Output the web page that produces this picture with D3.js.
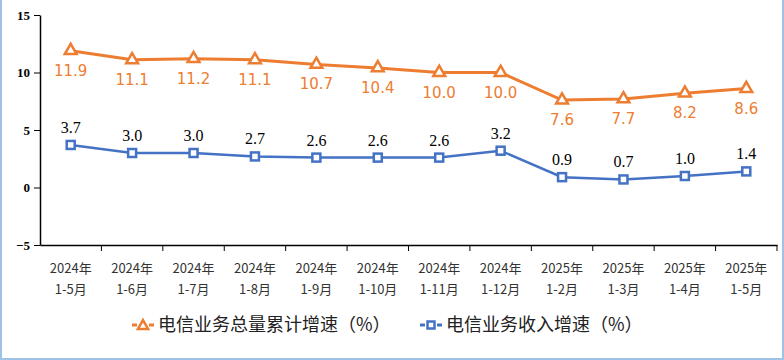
<!DOCTYPE html>
<html>
<head>
<meta charset="utf-8">
<script src="https://cdn.jsdelivr.net/npm/d3@7"></script>
<style>
  body { margin: 0; background: #fff; }
  svg { display: block; }
</style>
</head>
<body>
<div id="chart-area"><svg></svg></div>
<script>
const categories = ["2024年|1-5月", "2024年|1-6月", "2024年|1-7月", "2024年|1-8月", "2024年|1-9月", "2024年|1-10月",
  "2024年|1-11月", "2024年|1-12月", "2025年|1-2月", "2025年|1-3月", "2025年|1-4月", "2025年|1-5月"];
const volumeGrowth = [11.9, 11.1, 11.2, 11.1, 10.7, 10.4, 10.0, 10.0, 7.6, 7.7, 8.2, 8.6];
const revenueGrowth = [3.7, 3.0, 3.0, 2.7, 2.6, 2.6, 2.6, 3.2, 0.9, 0.7, 1.0, 1.4];
const yTicks = [-5, 0, 5, 10, 15];
const seriesNames = ["电信业务总量累计增速（%）", "电信业务收入增速（%）"];

const chartSize = { width: 784, height: 360 };
const margin = { left: 40, right: 7, top: 15, bottom: 115 };
const width = chartSize.width - margin.left - margin.right;
const height = chartSize.height - margin.top - margin.bottom;
const orange = "#ED7D31";
const blue = "#4472C4";
const serif = "'Liberation Serif', 'DejaVu Serif', serif";
const cjk = "'Noto Sans CJK SC', sans-serif";

const svg = d3.select("#chart-area svg")
  .attr("width", chartSize.width)
  .attr("height", chartSize.height);

// frame
svg.append("path")
  .attr("d", `M1,0 V${chartSize.height - 1} H${chartSize.width - 1} V0`)
  .attr("fill", "none")
  .attr("stroke", "#9DC3E6")
  .attr("stroke-width", 2);

const g = svg.append("g").attr("transform", `translate(${margin.left},${margin.top})`);

const x = d3.scaleBand().domain(categories).range([0, width]);
const y = d3.scaleLinear().domain([-5, 15]).range([height, 0]);

const yAxis = g.append("g")
  .call(d3.axisLeft(y).tickValues(yTicks).tickSize(6).tickSizeOuter(0).tickPadding(4));
yAxis.select(".domain").attr("stroke", "#000").attr("stroke-width", 1.5);
yAxis.selectAll(".tick line").attr("stroke", "#000");
yAxis.selectAll("text")
  .style("font-family", serif)
  .attr("font-weight", "bold")
  .attr("font-size", 13)
  .attr("fill", "#000");

const xAxis = g.append("g")
  .attr("transform", `translate(0,${height})`)
  .call(d3.axisBottom(x).tickSize(0).tickFormat(""));
xAxis.select(".domain").attr("stroke", "#000").attr("stroke-width", 1.5);

// tick marks on category boundaries
g.append("g").selectAll("line")
  .data(categories)
  .join("line")
  .attr("x1", d => x(d) + x.bandwidth())
  .attr("x2", d => x(d) + x.bandwidth())
  .attr("y1", height)
  .attr("y2", height + 6)
  .attr("stroke", "#000");

const labels = g.append("g").selectAll("text")
  .data(categories)
  .join("text")
  .attr("x", d => x(d) + x.bandwidth() / 2)
  .attr("y", height + 28)
  .attr("text-anchor", "middle")
  .attr("font-family", "'Noto Sans CJK SC', 'DejaVu Sans', sans-serif")
  .attr("font-size", 13)
  .attr("fill", "#333");
labels.append("tspan").attr("x", d => x(d) + x.bandwidth() / 2).text(d => d.split("|")[0]);
labels.append("tspan").attr("x", d => x(d) + x.bandwidth() / 2).attr("dy", 21).text(d => d.split("|")[1]);

const cx = i => x(categories[i]) + x.bandwidth() / 2;
const line = d3.line().x((d, i) => cx(i)).y(d => y(d));

// orange series
g.append("path")
  .attr("d", line(volumeGrowth))
  .attr("fill", "none")
  .attr("stroke", orange)
  .attr("stroke-width", 3);

const tri = d3.symbol().type(d3.symbolTriangle).size(60);
g.append("g").selectAll("path")
  .data(volumeGrowth)
  .join("path")
  .attr("d", tri)
  .attr("transform", (d, i) => `translate(${cx(i)},${y(d)})`)
  .attr("fill", "#fff")
  .attr("stroke", orange)
  .attr("stroke-width", 2.5);

g.append("g").selectAll("text")
  .data(volumeGrowth)
  .join("text")
  .attr("x", (d, i) => cx(i))
  .attr("y", d => y(d) + 25)
  .attr("text-anchor", "middle")
  .attr("font-family", "'DejaVu Sans', sans-serif")
  .attr("font-size", 15)
  .attr("fill", orange)
  .text(d => d.toFixed(1));

// blue series
g.append("path")
  .attr("d", line(revenueGrowth))
  .attr("fill", "none")
  .attr("stroke", blue)
  .attr("stroke-width", 2.5);

g.append("g").selectAll("rect")
  .data(revenueGrowth)
  .join("rect")
  .attr("x", (d, i) => cx(i) - 4)
  .attr("y", d => y(d) - 4)
  .attr("width", 8)
  .attr("height", 8)
  .attr("fill", "#fff")
  .attr("stroke", blue)
  .attr("stroke-width", 2.5);

g.append("g").selectAll("text")
  .data(revenueGrowth)
  .join("text")
  .attr("x", (d, i) => cx(i))
  .attr("y", d => y(d) - 12)
  .attr("text-anchor", "middle")
  .style("font-family", serif)
  .attr("font-size", 16)
  .attr("fill", "#000")
  .text(d => d.toFixed(1));

// legend
const legend = svg.append("g").attr("transform", "translate(0,325)");
const items = [
  { name: seriesNames[0], color: orange, x: 132, sym: "tri" },
  { name: seriesNames[1], color: blue, x: 420, sym: "sq" }
];
items.forEach(it => {
  const lg = legend.append("g").attr("transform", `translate(${it.x},0)`);
  lg.append("line").attr("x1", 0).attr("x2", 22).attr("y1", 0).attr("y2", 0)
    .attr("stroke", it.color).attr("stroke-width", 3).attr("stroke-dasharray", "5,12");
  if (it.sym === "tri") {
    lg.append("path").attr("d", d3.symbol().type(d3.symbolTriangle).size(45)).attr("transform", "translate(11,1)")
      .attr("fill", "#fff").attr("stroke", it.color).attr("stroke-width", 2.5);
  } else {
    lg.append("rect").attr("x", 7.5).attr("y", -3.5).attr("width", 7).attr("height", 7)
      .attr("fill", "#fff").attr("stroke", it.color).attr("stroke-width", 2.5);
  }
  lg.append("text").attr("x", 26).attr("y", 6)
    .attr("font-family", cjk).attr("font-size", 18).attr("fill", "#222")
    .text(it.name);
});
</script>
</body>
</html>
